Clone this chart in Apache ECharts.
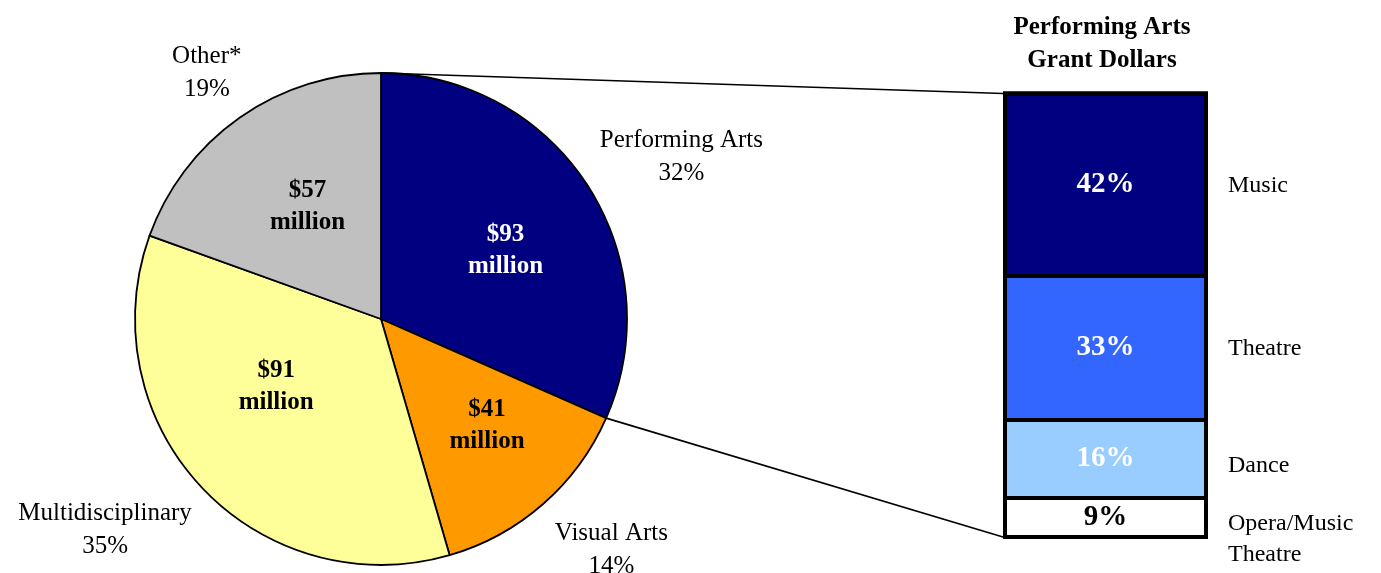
<!DOCTYPE html>
<html>
<head>
<meta charset="utf-8">
<script src="https://cdn.jsdelivr.net/npm/echarts@6/dist/echarts.min.js"></script>
<style>
html,body{margin:0;padding:0;background:#fff;}
#chart{width:1381px;height:573px;}
</style>
</head>
<body>
<div id="chart"></div>
<script>
// ---- data ----
const pieNames = ['Performing Arts', 'Visual Arts', 'Multidisciplinary', 'Other'];
const pieShares = [31.6, 13.9, 35.0, 19.5];
const piePctLabels = ['32%', '14%', '35%', '19%'];
const pieDollars = ['$93', '$41', '$91', '$57'];
const barNames = ['Music', 'Theatre', 'Dance', 'Opera/Music\nTheatre'];
const barShares = [41.1, 32.4, 17.6, 8.9];
const barPctLabels = ['42%', '33%', '16%', '9%'];
const titleText = 'Performing Arts\nGrant Dollars';

// ---- styles / layout ----
const FONT = '"Liberation Serif", "Times New Roman", serif';
const pieColors = ['#000080', '#FF9900', '#FFFF99', '#C0C0C0'];
const pieInnerLabelColors = ['#ffffff', '#000000', '#000000', '#000000'];
const pieInnerOffsets = [[19, 0], [23, 12], [-13, -19], [-1, -9]];
const pieOuterOffsets = [[19, 22], [9, -22], [-31, -19], [19, 29]];
const barColors = ['#000080', '#3366FF', '#99CCFF', '#FFFFFF'];
const barLabelColors = ['#ffffff', '#ffffff', '#ffffff', '#000000'];
const barNameOffsets = [[0, 1], [0, 1], [0, 7], [0, 22]];
const PIE_CX = 381, PIE_CY = 319, PIE_R = 246;
const BAR_L = 1005, BAR_R = 1206, BAR_T = 93.5, BAR_B = 537;

const chart = echarts.init(document.getElementById('chart'), null, {renderer: 'canvas'});

const mainPieData = pieNames.map((n, i) => ({
  name: n, value: pieShares[i],
  itemStyle: {color: pieColors[i]},
  label: {color: pieInnerLabelColors[i], offset: pieInnerOffsets[i]}
}));
const ringPieData = pieNames.map((n, i) => ({
  name: n, value: pieShares[i],
  label: {offset: pieOuterOffsets[i]}
}));

// boundaries between stacked segments (measured from the top: 100 - cumulative)
const boundaries = [];
let cum = 0;
for (let i = 0; i < barShares.length - 1; i++) { cum += barShares[i]; boundaries.push(100 - cum); }

// stack from the bottom segment upwards so Music sits on top
const order = barNames.map((_, i) => i).reverse();
const barSeries = order.map((i, k) => {
  const s = {
    type: 'bar', name: barNames[i], stack: 'a', xAxisIndex: 0, yAxisIndex: 0,
    barWidth: BAR_R - BAR_L,
    data: [barShares[i]],
    itemStyle: {color: barColors[i], borderWidth: 0},
    label: {
      show: true, position: 'inside', formatter: barPctLabels[i],
      fontFamily: FONT, fontWeight: 'bold', fontSize: 29, color: barLabelColors[i]
    },
    emphasis: {disabled: true}, silent: true, animation: false
  };
  if (k === order.length - 1) {
    s.markLine = {
      silent: true, symbol: 'none', label: {show: false}, animation: false,
      lineStyle: {color: '#000', width: 4, type: 'solid'},
      emphasis: {disabled: true},
      data: boundaries.map(b => ({yAxis: b}))
    };
  }
  return s;
});
const barNameSeries = order.map(i => ({
  type: 'bar', name: barNames[i] + '_lbl', stack: 'b', xAxisIndex: 1, yAxisIndex: 1,
  barWidth: BAR_R - BAR_L,
  data: [barShares[i]],
  itemStyle: {color: 'rgba(0,0,0,0)', borderWidth: 0},
  label: {
    show: true, position: 'right', distance: 22, formatter: barNames[i], align: 'left',
    fontFamily: FONT, fontSize: 24, lineHeight: 31, color: '#000', offset: barNameOffsets[i]
  },
  emphasis: {disabled: true}, silent: true, animation: false
}));

// connector lines from pie geometry
const total = pieShares.reduce((a, b) => a + b, 0);
const topPt = [PIE_CX, PIE_CY - PIE_R];
const endAngle = (90 - 360 * pieShares[0] / total) * Math.PI / 180;
const bndPt = [PIE_CX + PIE_R * Math.cos(endAngle), PIE_CY - PIE_R * Math.sin(endAngle)];

const gridBox = {left: BAR_L, top: BAR_T, width: BAR_R - BAR_L, height: BAR_B - BAR_T};

chart.setOption({
  animation: false,
  backgroundColor: '#fff',
  title: {
    text: titleText, left: 1097, top: 6, textAlign: 'center',
    textStyle: {fontFamily: FONT, fontWeight: 'bold', fontSize: 25, lineHeight: 33, color: '#000'}
  },
  grid: [
    Object.assign({show: true, borderColor: '#000', borderWidth: 4, backgroundColor: 'rgba(0,0,0,0)', z: 10}, gridBox),
    Object.assign({show: false}, gridBox)
  ],
  xAxis: [
    {type: 'category', data: ['PA'], gridIndex: 0, show: false},
    {type: 'category', data: ['PA'], gridIndex: 1, show: false}
  ],
  yAxis: [
    {type: 'value', min: 0, max: 100, gridIndex: 0, show: false},
    {type: 'value', min: 0, max: 100, gridIndex: 1, show: false}
  ],
  graphic: [
    {type: 'line', z: 0, shape: {x1: topPt[0], y1: topPt[1], x2: BAR_L - 2, y2: BAR_T}, style: {stroke: '#000', lineWidth: 1.6}},
    {type: 'line', z: 0, shape: {x1: bndPt[0], y1: bndPt[1], x2: BAR_L - 2, y2: BAR_B}, style: {stroke: '#000', lineWidth: 1.6}},
    {type: 'rect', z: 100, shape: {x: BAR_L, y: BAR_T, width: BAR_R - BAR_L, height: BAR_B - BAR_T}, style: {fill: 'none', stroke: '#000', lineWidth: 4}}
  ],
  series: [
    {
      type: 'pie', name: 'main', center: [PIE_CX, PIE_CY], radius: [0, PIE_R],
      startAngle: 90, clockwise: true, avoidLabelOverlap: false,
      data: mainPieData,
      itemStyle: {borderColor: '#000', borderWidth: 1.8},
      label: {
        show: true, position: 'inside',
        formatter: p => pieDollars[p.dataIndex] + '\nmillion',
        fontFamily: FONT, fontWeight: 'bold', fontSize: 25, lineHeight: 32
      },
      labelLine: {show: false},
      emphasis: {disabled: true}, silent: true, animation: false
    },
    {
      type: 'pie', name: 'ring', center: [PIE_CX, PIE_CY], radius: [PIE_R, 420],
      startAngle: 90, clockwise: true, avoidLabelOverlap: false,
      data: ringPieData,
      itemStyle: {color: 'rgba(0,0,0,0)', borderWidth: 0},
      label: {
        show: true, position: 'inside',
        formatter: p => (p.name === 'Other' ? 'Other*' : p.name) + '\n' + piePctLabels[p.dataIndex],
        fontFamily: FONT, fontSize: 25, lineHeight: 33, color: '#000'
      },
      labelLine: {show: false},
      emphasis: {disabled: true}, silent: true, animation: false
    }
  ].concat(barSeries, barNameSeries)
});
</script>
</body>
</html>
